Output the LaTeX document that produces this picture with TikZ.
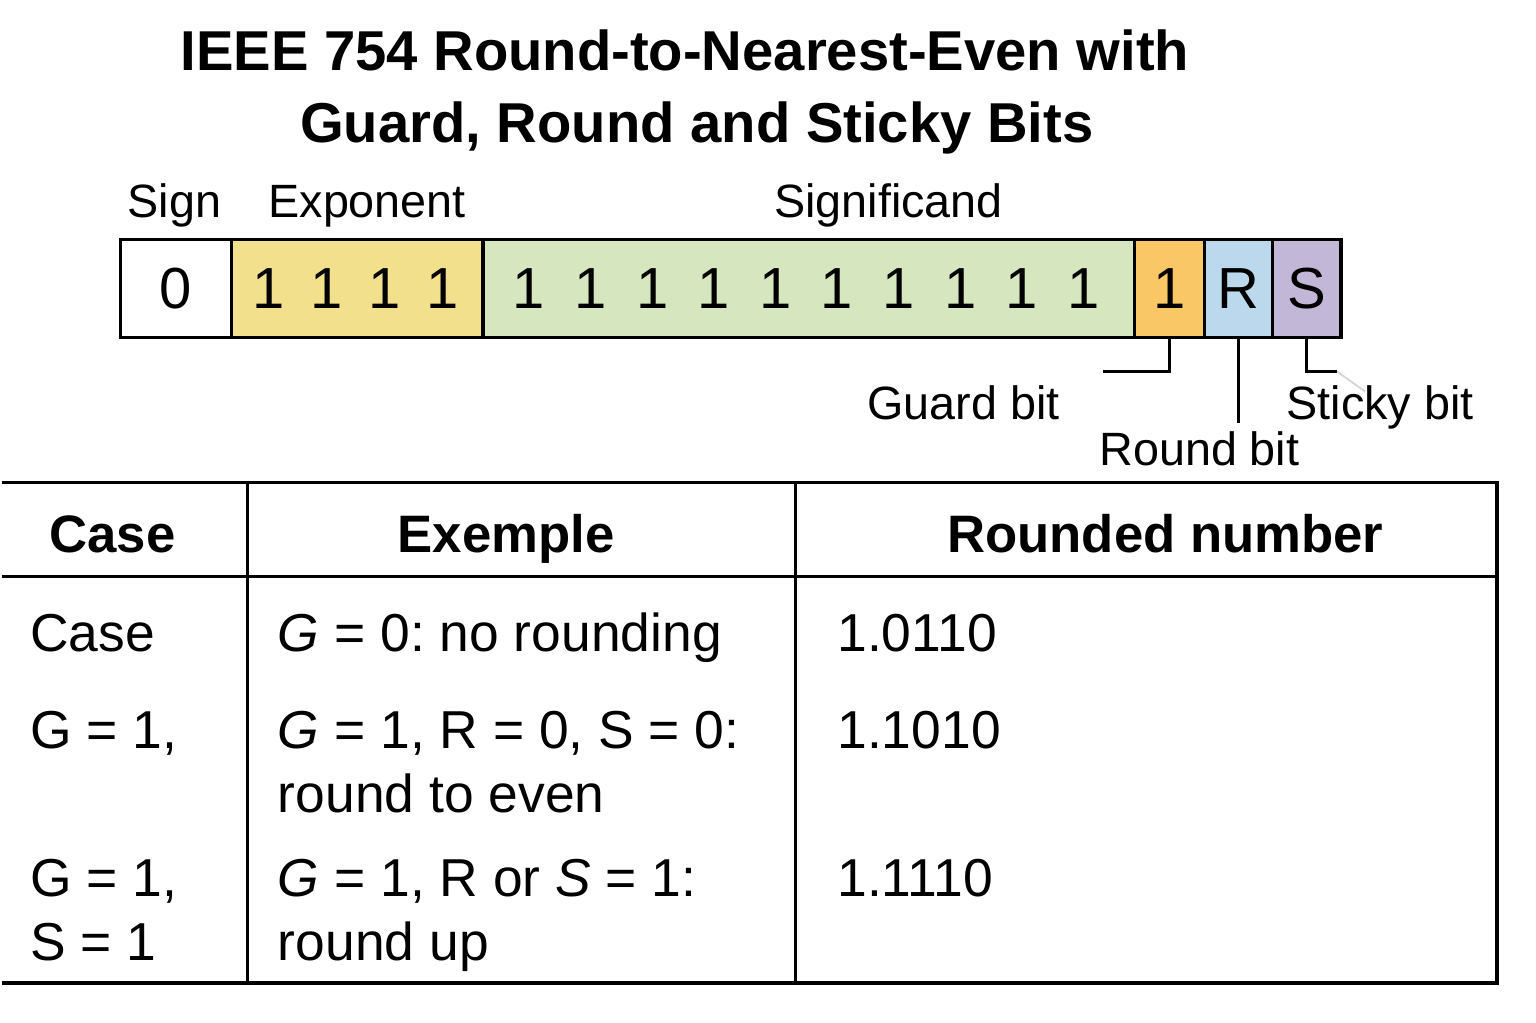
\documentclass[tikz,border=0pt]{standalone}
\usepackage{fontspec}
\setmainfont{Liberation Sans}
\usetikzlibrary{calc}
\definecolor{ieeeexp}{HTML}{F3E08C}
\definecolor{ieeesig}{HTML}{D6E7C0}
\definecolor{ieeeguard}{HTML}{F9C765}
\definecolor{ieeeround}{HTML}{BBD8EC}
\definecolor{ieeesticky}{HTML}{C3B7D7}
\definecolor{ieeefaint}{HTML}{D4D4D4}
\frenchspacing

\begin{document}
\begin{tikzpicture}[
        x=0.01cm, y=-0.01cm,
        ttl/.style={font=\fontsize{16pt}{19pt}\selectfont\bfseries, anchor=base},
        lbl/.style={font=\fontsize{13.3pt}{16pt}\selectfont, anchor=base},
        cell/.style={
          draw=black, line width=1pt,
          minimum height=0.98cm, inner sep=0pt,
          font=\fontsize{16.5pt}{19pt}\selectfont,
        },
        bit/.style={font=\fontsize{16.5pt}{19pt}\selectfont, inner sep=0pt},
        hd/.style={font=\fontsize{15pt}{18pt}\selectfont\bfseries, anchor=base},
        txt/.style={font=\fontsize{15.2pt}{18pt}\selectfont, anchor=base west, inner sep=0pt},
        lead/.style={draw=black, line width=0.8pt},
        rule/.style={draw=black, line width=0.9pt},
      ]
      \path[fill=white] (0,0) rectangle (1536,1024);

      % title
      \node[ttl] (t1) at (684,71)  {IEEE 754 Round-to-Nearest-Even with};
      \node[ttl] (t2) at (696,143) {Guard, Round and Sticky Bits};

      % field names
      \node[lbl] (lsign) at (173,218) {Sign};
      \node[lbl] (lexp)  at (366,218) {Exponent};
      \node[lbl] (lsig)  at (888,218) {Significand};

      % bit field
      \node[cell, minimum width=1.11cm]                 (sgn) at (174.5,289) {0};
      \node[cell, fill=ieeeexp, minimum width=2.52cm]    (exp) at (356,289)   {};
      \node[cell, fill=ieeesig, minimum width=6.52cm]    (sig) at (808,289)   {};
      \node[cell, fill=ieeeguard, minimum width=0.70cm]  (grd) at (1169,289)  {1};
      \node[cell, fill=ieeeround, minimum width=0.68cm]  (rnd) at (1238,289)  {R};
      \node[cell, fill=ieeesticky, minimum width=0.69cm] (stk) at (1306.5,289) {S};

      \foreach \i in {0,...,3}
        \node[bit] (e\i) at (267+58*\i,289) {1};
      \foreach \i in {0,...,9}
        \node[bit] (s\i) at (528+61.67*\i,289) {1};

      % bit labels
      \node[lbl] (lgrd) at (963,420)  {Guard bit};
      \node[lbl] (lrnd) at (1199,466) {Round bit};
      \node[lbl] (lstk) at (1380,420) {Sticky bit};

      \coordinate (gend) at (1103,372);
      \coordinate (send) at (1337,372);
      \draw[lead] (grd.south) |- (gend);
      \draw[lead] (rnd.south) -- (rnd.south |- 0,423);
      \draw[lead] (stk.south) |- (send);
      \draw[ieeefaint, line width=0.5pt] (send) -- (1365,392);

      % table
      \draw[rule] (0,483) -- (1497,483) -- (1497,984) -- (0,984);
      \draw[rule] (0,577) -- (1497,577);
      \draw[rule] (246,483) -- (246,984);
      \draw[rule] (795,483) -- (795,984);

      \node[hd] (hcase) at (111,553)  {Case};
      \node[hd] (hex)   at (505,553)  {Exemple};
      \node[hd] (hnum)  at (1165,553) {Rounded number};

      \node[txt] (c1)  at (28,652)  {Case};
      \node[txt] (x1)  at (276,652) {\textit{G} = 0: no rounding};
      \node[txt] (n1)  at (836,652) {1.0110};

      \node[txt] (c2)  at (28,749)  {G = 1,};
      \node[txt] (x2)  at (276,749) {\textit{G} = 1, R = 0, S = 0:};
      \node[txt] (x2b) at (276,813) {round to even};
      \node[txt] (n2)  at (836,749) {1.1010};

      \node[txt] (c3)  at (28,897)  {G = 1,};
      \node[txt] (c3b) at (28,961)  {S = 1};
      \node[txt] (x3)  at (276,897) {\textit{G} = 1, R or \textit{S} = 1:};
      \node[txt] (x3b) at (276,961) {round up};
      \node[txt] (n3)  at (836,897) {1.1110};
    \end{tikzpicture}
\end{document}
